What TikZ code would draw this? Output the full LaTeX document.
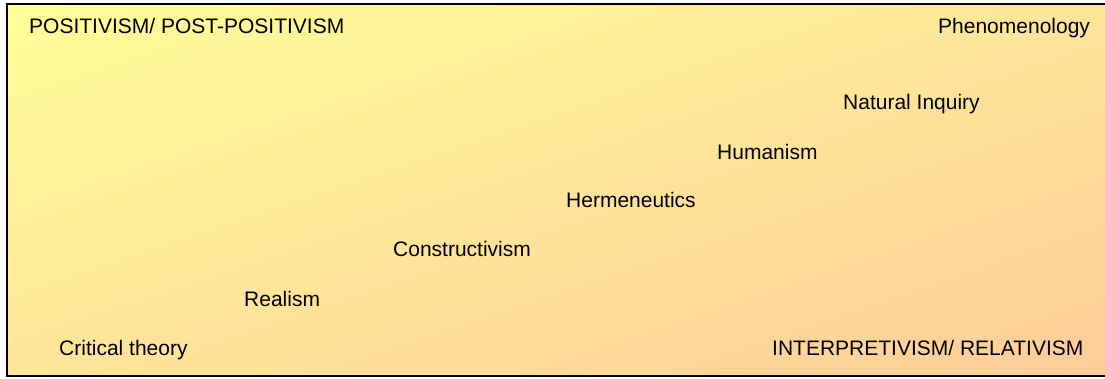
\documentclass[tikz,border=0pt]{standalone}
\usepackage{fontspec}
\setmainfont{Liberation Sans}
\usetikzlibrary{shadings}
\definecolor{paleyellow}{RGB}{255,255,153}
\definecolor{midtone}{RGB}{255,229,153}
\definecolor{peach}{RGB}{255,204,153}
\begin{document}
\begin{tikzpicture}[x=1pt,y=-1pt,
  term/.style={inner sep=0pt, anchor=base west, text=black,
    font=\fontsize{21}{25}\selectfont},
  panel/.style={upper left=paleyellow, upper right=midtone,
    lower left=midtone, lower right=peach}]
  \useasboundingbox (0,0) rectangle (1105,378);
  \clip (0,0) rectangle (1105,378);
  % shaded panel, its right edge runs past the page
  \shade[panel] (7,4) rectangle (1112,376);
  \draw[black, line width=1.5pt] (1112,4) -- (7,4) -- (7,376) -- (1112,376);

  % the two poles of the spectrum
  \node[term] (pos)  at (29,33)   {POSITIVISM/ POST-POSITIVISM};
  \node[term] (interp) at (772,355) {INTERPRETIVISM/ RELATIVISM};

  % positions along the diagonal
  \node[term] (phen) at (938,33)  {Phenomenology};
  \node[term] (nat)  at (843,109) {Natural Inquiry};
  \node[term] (hum)  at (717,159) {Humanism};
  \node[term] (herm) at (566,207) {Hermeneutics};
  \node[term] (cons) at (393,256) {Constructivism};
  \node[term] (real) at (244,306) {Realism};
  \node[term] (crit) at (59,355)  {Critical theory};
\end{tikzpicture}
\end{document}
